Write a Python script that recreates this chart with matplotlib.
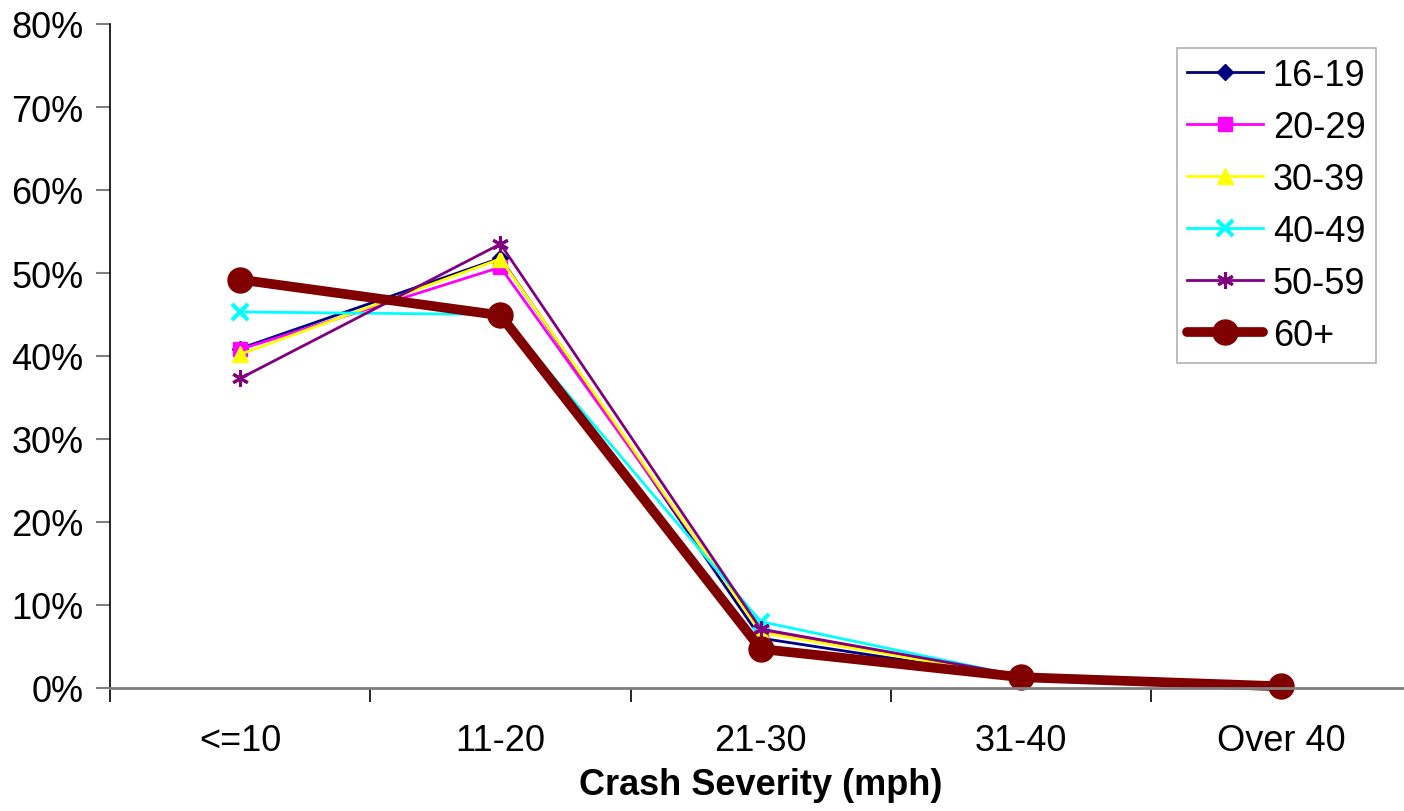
import matplotlib
matplotlib.use("Agg")
import matplotlib.pyplot as plt
from matplotlib.ticker import FuncFormatter, FixedLocator

plt.rcParams['font.family'] = ['Liberation Sans', 'DejaVu Sans']

categories = ["<=10", "11-20", "21-30", "31-40", "Over 40"]
age_groups = ["16-19", "20-29", "30-39", "40-49", "50-59", "60+"]

share_16_19 = [40.9, 51.8, 6.0, 1.2, 0.2]
share_20_29 = [40.8, 50.7, 6.9, 1.4, 0.3]
share_30_39 = [40.2, 51.7, 6.7, 1.3, 0.2]
share_40_49 = [45.3, 45.0, 8.0, 1.4, 0.2]
share_50_59 = [37.3, 53.5, 7.1, 1.5, 0.3]
share_60_plus = [49.2, 44.9, 4.7, 1.3, 0.2]

series = [share_16_19, share_20_29, share_30_39, share_40_49, share_50_59, share_60_plus]

styles = [
    dict(color="#000080", marker="D", markersize=8, lw=2),
    dict(color="#FF00FF", marker="s", markersize=10, lw=2),
    dict(color="#FFFF00", marker="^", markersize=11, lw=2),
    dict(color="#00FFFF", marker="x", markersize=11, mew=3, lw=2),
    dict(color="#800080", marker=(6, 2, 0), markersize=12, mew=2.2, lw=2),
    dict(color="#800000", marker="o", markersize=18, lw=7, solid_capstyle="round"),
]

FS = 26

fig = plt.figure(figsize=(14.04, 8.12), dpi=100)
ax = fig.add_axes([110 / 1404, 1 - 689 / 812, (1411.5 - 110) / 1404, (689 - 25) / 812])

x = list(range(len(categories)))
for name, vals, st in zip(age_groups, series, styles):
    ax.plot(x, vals, label=name, clip_on=False, **st)

ax.set_xlim(-0.5, len(categories) - 0.5)
ax.set_ylim(0, 80)
ax.set_yticks(range(0, 81, 10))
ax.yaxis.set_major_formatter(FuncFormatter(lambda v, p: f"{int(v)}%"))

ax.xaxis.set_major_locator(FixedLocator([i - 0.5 for i in range(len(categories) + 1)]))
ax.set_xticklabels([])
ax.set_xticks(x, minor=True)
ax.set_xticklabels(categories, minor=True)
ax.tick_params(axis="x", which="minor", length=0, labelsize=FS, pad=25)
ax.tick_params(axis="x", which="major", length=10, width=1.2, color="black", direction="out")
ax.tick_params(axis="y", length=10, width=1.5, color="#808080", labelsize=FS, pad=9)

for s in ["top", "right"]:
    ax.spines[s].set_visible(False)
ax.spines["left"].set_color("black")
ax.spines["left"].set_linewidth(1.2)
ax.spines["bottom"].set_color("#808080")
ax.spines["bottom"].set_linewidth(2)

ax.set_xlabel("Crash Severity (mph)", fontsize=FS, fontweight="bold", labelpad=7)

leg = ax.legend(loc="upper left", bbox_to_anchor=((1177 - 110) / 1301.5, 1 - (49 - 25) / 664),
                fontsize=FS, frameon=True, fancybox=False, edgecolor="#a0a0a0",
                handlelength=2.1, handletextpad=0.27, labelspacing=0.47, borderpad=0.28,
                borderaxespad=0)
leg.get_frame().set_linewidth(1.2)

fig.savefig("out.png", dpi=100)
